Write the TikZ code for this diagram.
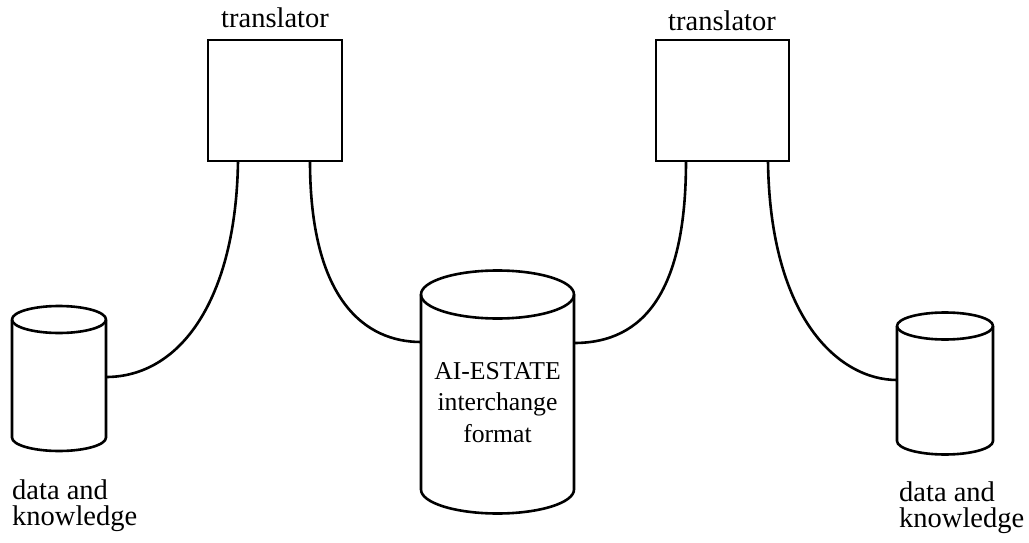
\documentclass[tikz,border=0pt]{standalone}
\usepackage{fontspec}
\setmainfont{Liberation Serif}
\begin{document}
\begin{tikzpicture}[x=1pt,y=-1pt,
  ln/.style={line width=2.6pt, line join=round},
  lbl/.style={font=\fontsize{28.5}{32}\selectfont, inner sep=0pt},
  mid/.style={font=\fontsize{25.7}{31}\selectfont, inner sep=0pt},
  tbox/.style={draw, line width=2.6pt, minimum width=134pt, minimum height=121pt, inner sep=0pt}]
\useasboundingbox (0,0) rectangle (1029,543);
% translator boxes
\node[tbox] (t1) at (275,100.5) {};
\node[tbox, minimum width=133pt] (t2) at (722.5,100.5) {};
\node[lbl, anchor=base] (t1l) at (275,28) {translator};
\node[lbl, anchor=base] (t2l) at (722,31) {translator};
% cylinders
\newcommand\mycyl[6]{% xl xr ytop ybot ry name
  \draw[ln, fill=white] (#1,#3) -- (#1,#4) arc (180:0:{(#2-#1)/2} and #5) -- (#2,#3);
  \draw[ln] ({(#1+#2)/2},#3) ellipse ({(#2-#1)/2} and #5);
}
\mycyl{12}{106}{319.5}{437.5}{13.5}{c1}
\mycyl{421}{574}{294.5}{489.5}{24}{c2}
\mycyl{897}{993}{326}{441}{13.5}{c3}
% connection points
\coordinate (t1a) at (238,161);
\coordinate (t1b) at (310,161);
\coordinate (t2a) at (686,161);
\coordinate (t2b) at (768,161);
\coordinate (c1r) at (106,377);
\coordinate (c2l) at (421,342);
\coordinate (c2r) at (574,343);
\coordinate (c3l) at (897,380);
% connectors
\draw[ln] (t1a) .. controls (236,300) and (180,377) .. (c1r);
\draw[ln] (t1b) .. controls (310,300) and (365,342) .. (c2l);
\draw[ln] (t2a) .. controls (686,290) and (645,343) .. (c2r);
\draw[ln] (t2b) .. controls (770,320) and (840,380) .. (c3l);
% labels
\node[lbl, anchor=base west] (d1a) at (12,499) {data and};
\node[lbl, anchor=base west] (d1b) at (12,525) {knowledge};
\node[lbl, anchor=base west] (d3a) at (899,501) {data and};
\node[lbl, anchor=base west] (d3b) at (899,527) {knowledge};
\node[mid, anchor=base] (m1) at (497.5,379) {AI-ESTATE};
\node[mid, anchor=base] (m2) at (497.5,410) {interchange};
\node[mid, anchor=base] (m3) at (497.5,442) {format};
\end{tikzpicture}
\end{document}
